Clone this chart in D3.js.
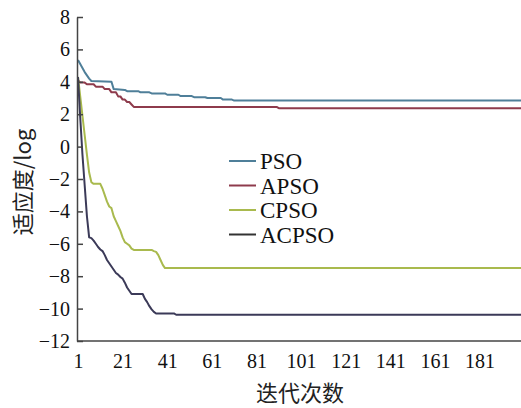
<!DOCTYPE html>
<html><head><meta charset="utf-8">
<script src="https://cdn.jsdelivr.net/npm/d3@7/dist/d3.min.js"></script>
<style>body{margin:0;background:#fff}svg{display:block}</style>
</head><body>
<svg id="c" width="521" height="408"></svg>
<script>
// Data: [iteration, log fitness] vertices
const seriesNames = ["PSO", "APSO", "CPSO", "ACPSO"];
const psoData = [[1,5.35],[2,5.1],[3,4.85],[4,4.6],[5,4.4],[6,4.2],[7,4.05],[16,4.0],[17,3.55],[22,3.5],[23,3.42],[28,3.42],[29,3.35],[33,3.35],[34,3.28],[40,3.28],[41,3.2],[46,3.2],[47,3.12],[52,3.12],[53,3.05],[58,3.05],[59,3.0],[65,3.0],[66,2.9],[70,2.9],[71,2.84],[200,2.84]];
const apsoData = [[1,4.1],[2,3.95],[4,3.95],[5,3.85],[8,3.85],[9,3.7],[12,3.7],[13,3.55],[15,3.55],[16,3.35],[18,3.35],[19,3.1],[20,3.1],[21,2.9],[22,2.9],[23,2.75],[24,2.75],[25,2.6],[26,2.45],[90,2.45],[91,2.37],[200,2.37]];
const cpsoData = [[1,4.3],[2,3.1],[3,1.9],[4,0.7],[5,-0.5],[6,-1.6],[7,-2.2],[8,-2.3],[11,-2.3],[12,-2.6],[13,-3.0],[14,-3.4],[15,-3.7],[16,-3.8],[17,-4.3],[18,-4.6],[19,-4.9],[20,-5.2],[21,-5.6],[22,-5.9],[23,-6.0],[24,-6.1],[25,-6.3],[26,-6.38],[34,-6.38],[35,-6.45],[36,-6.5],[37,-6.7],[38,-7.0],[39,-7.3],[40,-7.5],[200,-7.5]];
const acpsoData = [[1,4.3],[2,1.8],[3,-0.5],[4,-2.4],[5,-4.3],[6,-5.6],[7,-5.65],[8,-5.8],[9,-6.0],[10,-6.2],[11,-6.35],[12,-6.45],[13,-6.7],[14,-7.0],[15,-7.2],[16,-7.4],[17,-7.6],[18,-7.8],[19,-7.9],[20,-8.05],[21,-8.15],[22,-8.4],[23,-8.7],[24,-8.9],[25,-9.1],[30,-9.1],[31,-9.4],[32,-9.6],[33,-9.85],[34,-10.05],[35,-10.2],[36,-10.3],[44,-10.3],[45,-10.38],[200,-10.38]];
const seriesColors = ["#4f7f99", "#8e3b4c", "#a9ba4e", "#3b3a58"];
const legendColors = ["#4f7f99", "#8e3b4c", "#a9ba4e", "#333333"];
const xTicks = [1,21,41,61,81,101,121,141,161,181];
const yTicks = [-12,-10,-8,-6,-4,-2,0,2,4,6,8];
const xTitle = "迭代次数";
const yTitle = "适应度/log";

const svg = d3.select("#c");
const x = d3.scaleLinear().domain([1,200]).range([78,522]);
const y = d3.scaleLinear().domain([-12,8]).range([341,17]);
const serif = "'Liberation Serif','Times New Roman',serif";
const cjk = "'Noto Sans CJK SC',sans-serif";

const line = d3.line().x(d=>x(d[0])).y(d=>y(d[1]));
const all = [psoData, apsoData, cpsoData, acpsoData];
[0,1,2,3].forEach(i=>{
  svg.append("path").datum(all[i]).attr("d", line)
    .attr("fill","none").attr("stroke", seriesColors[i]).attr("stroke-width",2)
    .attr("stroke-linejoin","round");
});

// y axis
const ya = svg.append("g").attr("transform","translate(77,0)")
  .call(d3.axisLeft(y).tickValues(yTicks).tickSizeInner(-6).tickSizeOuter(0).tickPadding(7));
ya.select(".domain").attr("stroke","#444").attr("stroke-width",1.5);
ya.selectAll(".tick line").attr("stroke","#444").attr("stroke-width",1.5);
ya.selectAll(".tick text").attr("font-family",serif).attr("font-size",20).attr("fill","#111");

// x axis
const xa = svg.append("g").attr("transform","translate(0,341)")
  .call(d3.axisBottom(x).tickValues(xTicks).tickSize(0).tickPadding(13).tickFormat(d3.format("d")));
xa.select(".domain").attr("stroke","#444").attr("stroke-width",1.5).attr("d","M77,0H521");
xa.selectAll(".tick text").attr("font-family",serif).attr("font-size",20).attr("fill","#111");

// titles
svg.append("text").attr("x",300).attr("y",401).attr("text-anchor","middle")
  .attr("font-family",cjk).attr("font-size",22).attr("fill","#222").text(xTitle);
svg.append("text").attr("transform","translate(21,182) rotate(-90)")
  .attr("text-anchor","middle").attr("dominant-baseline","central")
  .attr("font-family",cjk).attr("font-size",22).attr("fill","#222").text(yTitle);

// legend
const lg = svg.append("g");
const legY = [161,185.5,210,234.5];
seriesNames.forEach((n,i)=>{
  lg.append("line").attr("x1",229).attr("x2",256).attr("y1",legY[i]).attr("y2",legY[i])
    .attr("stroke",legendColors[i]).attr("stroke-width",2);
  lg.append("text").attr("x",260).attr("y",legY[i]).attr("dy","0.35em")
    .attr("font-family",serif).attr("font-size",23).attr("fill","#111").text(n);
});
</script>
</body></html>
